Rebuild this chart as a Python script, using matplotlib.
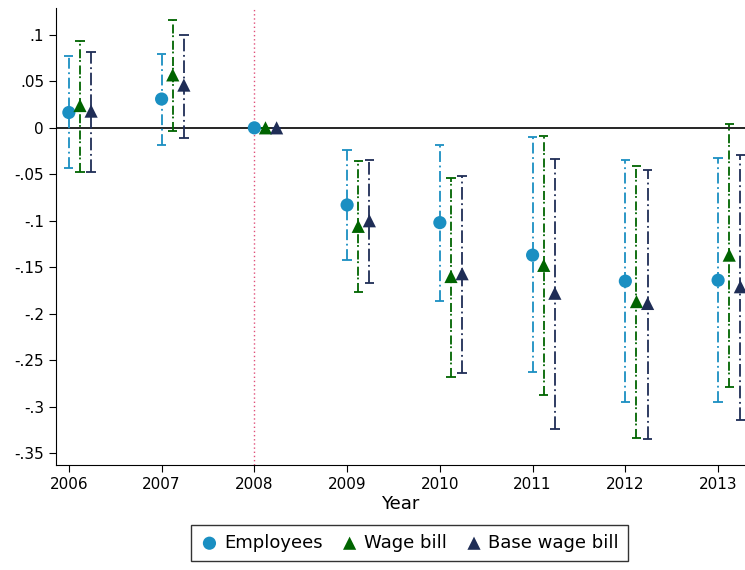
import matplotlib.pyplot as plt
import numpy as np

years = [2006, 2007, 2008, 2009, 2010, 2011, 2012, 2013]

emp = [0.0165, 0.031, 0.0, -0.083, -0.102, -0.137, -0.165, -0.164]
emp_hi = [0.077, 0.079, 0.0, -0.024, -0.018, -0.010, -0.035, -0.032]
emp_lo = [-0.0435, -0.018, 0.0, -0.142, -0.186, -0.263, -0.295, -0.295]

wage = [0.024, 0.057, 0.0, -0.106, -0.160, -0.148, -0.187, -0.137]
wage_hi = [0.093, 0.116, 0.0, -0.036, -0.054, -0.009, -0.041, 0.0036]
wage_lo = [-0.047, -0.003, 0.0, -0.177, -0.268, -0.287, -0.334, -0.279]

base = [0.018, 0.046, 0.0, -0.100, -0.157, -0.178, -0.189, -0.171]
base_hi = [0.082, 0.100, 0.0, -0.035, -0.052, -0.033, -0.045, -0.029]
base_lo = [-0.048, -0.011, 0.0, -0.167, -0.264, -0.324, -0.335, -0.314]

series = [
    ("Employees", emp, emp_lo, emp_hi, 0.0, "#1a8fc2", "o", (0, (6, 2, 1, 2))),
    ("Wage bill", wage, wage_lo, wage_hi, 0.12, "#006400", "^", (0, (5, 2, 1, 1))),
    ("Base wage bill", base, base_lo, base_hi, 0.24, "#1f2d56", "^", (0, (7, 2, 1, 2))),
]

fig = plt.figure(figsize=(7.45, 5.7), dpi=100)
ax = fig.add_axes([0.075, 0.184, 0.925, 0.802])

ax.axhline(0, color="black", lw=1.2, zorder=1)
ax.axvline(2008, color="#e0507a", lw=1, ls=(0, (1, 2)), zorder=1)

handles = []
for name, y, lo, hi, off, col, mk, ls in series:
    x = np.array(years) + off
    y = np.array(y)
    ax.vlines(x, lo, hi, color=col, lw=1.3, linestyles=[ls])
    ax.hlines(lo, x - 0.05, x + 0.05, color=col, lw=1.3)
    ax.hlines(hi, x - 0.05, x + 0.05, color=col, lw=1.3)
    h = ax.scatter(x, y, color=col, marker=mk, s=90, zorder=3, label=name, edgecolors="none")
    handles.append(h)

ax.set_xlim(2005.86, 2013.29)
ax.set_ylim(-0.363, 0.129)
ax.set_xticks(years)
yt = [0.1, 0.05, 0, -0.05, -0.1, -0.15, -0.2, -0.25, -0.3, -0.35]
ax.set_yticks(yt)
ax.set_yticklabels([".1", ".05", "0", "-.05", "-.1", "-.15", "-.2", "-.25", "-.3", "-.35"])
ax.tick_params(labelsize=11, direction="out", length=5)
ax.spines["top"].set_visible(False)
ax.spines["right"].set_visible(False)
ax.set_xlabel("Year", fontsize=13, labelpad=2)

fig.legend(handles=handles, loc="lower center", ncol=3, bbox_to_anchor=(0.55, 0.0),
           fontsize=13, frameon=True, fancybox=False, edgecolor="black",
           handlelength=1.0, handletextpad=0.3, columnspacing=1.0, borderpad=0.5)

fig.savefig("out.png")
